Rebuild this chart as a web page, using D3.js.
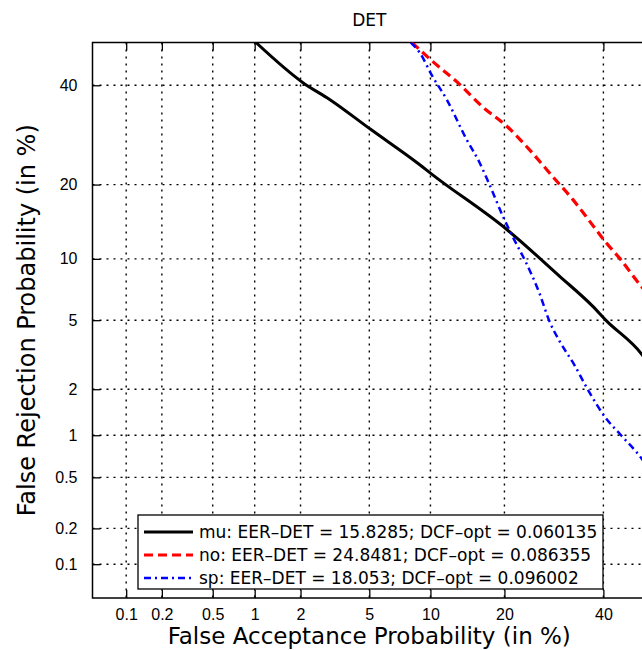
<!DOCTYPE html>
<html>
<head>
<meta charset="utf-8">
<script src="https://cdn.jsdelivr.net/npm/d3@7"></script>
<style>
  body { margin: 0; background: #fff; }
  svg { display: block; font-family: "DejaVu Sans", "Liberation Sans", Arial, sans-serif; }
</style>
</head>
<body>
<div id="chart"></div>
<script>
// Values in percent.
const tickLabels = [0.1, 0.2, 0.5, 1, 2, 5, 10, 20, 40];
const limits = [0.05, 50];

const muFA = [1.02, 2.07, 3.0, 5.1, 8.9, 10.2, 20.4, 30.4, 37.6, 40.6, 48.9, 50];
const muFR = [50, 40.6, 36.8, 30.3, 23.5, 21.7, 13.4, 8.3, 5.9, 4.99, 3.26, 3.0];

const noFA = [8.2, 10.2, 13.4, 16.6, 20.4, 24.4, 28.9, 33.2, 37.5, 40.6, 43.7, 48.9, 50];
const noFR = [50, 45.6, 40.2, 35.1, 31.0, 26.3, 21.4, 17.6, 14.0, 11.8, 10.1, 7.43, 7.0];

const spFA = [8.1, 8.9, 10.2, 11.8, 14.3, 16.1, 17.6, 20.0, 21.4, 23.8, 26.3, 28.3, 30.4, 33.5, 36.5, 40.6, 44.1, 48.9, 50];
const spFR = [50, 47.7, 42.1, 36.8, 28.3, 23.9, 20.0, 14.7, 12.5, 9.6, 6.9, 4.93, 3.83, 2.81, 1.98, 1.30, 1.00, 0.69, 0.62];

const legendLabels = [
    'mu: EER\u2013DET = 15.8285; DCF\u2013opt = 0.060135',
    'no: EER\u2013DET = 24.8481; DCF\u2013opt = 0.086355',
    'sp: EER\u2013DET = 18.053; DCF\u2013opt = 0.096002'
];

// Inverse normal CDF (Acklam), used for the probit (DET) axes.
function probit(p) {
    const a = [-3.969683028665376e+01, 2.209460984245205e+02, -2.759285104469687e+02, 1.383577518672690e+02, -3.066479806614716e+01, 2.506628277459239e+00];
    const b = [-5.447609879822406e+01, 1.615858368580409e+02, -1.556989798598866e+02, 6.680131188771972e+01, -1.328068155288572e+01];
    const c = [-7.784894002430293e-03, -3.223964580411365e-01, -2.400758277161838e+00, -2.549671010029044e+00, 4.374664141464968e+00, 2.938163982698783e+00];
    const d = [7.784695709041462e-03, 3.224671290700398e-01, 2.445134137142996e+00, 3.754408661907416e+00];
    const pl = 0.02425;
    let q, r;
    if (p < pl) {
        q = Math.sqrt(-2 * Math.log(p));
        return (((((c[0]*q+c[1])*q+c[2])*q+c[3])*q+c[4])*q+c[5]) / ((((d[0]*q+d[1])*q+d[2])*q+d[3])*q+1);
    } else if (p <= 1 - pl) {
        q = p - 0.5; r = q * q;
        return (((((a[0]*r+a[1])*r+a[2])*r+a[3])*r+a[4])*r+a[5])*q / (((((b[0]*r+b[1])*r+b[2])*r+b[3])*r+b[4])*r+1);
    }
    q = Math.sqrt(-2 * Math.log(1 - p));
    return -(((((c[0]*q+c[1])*q+c[2])*q+c[3])*q+c[4])*q+c[5]) / ((((d[0]*q+d[1])*q+d[2])*q+d[3])*q+1);
}
const pz = v => probit(v / 100);

const totalW = 642, totalH = 650;
const margin = {top: 42.5, left: 92.5, right: -4, bottom: 52};
const width = totalW - margin.left - margin.right;
const height = totalH - margin.top - margin.bottom;

const svg = d3.select('#chart').append('svg')
    .attr('width', totalW)
    .attr('height', totalH);
const g = svg.append('g').attr('transform', `translate(${margin.left},${margin.top})`);

// Linear scales in probit space.
const x = d3.scaleLinear().domain(limits.map(pz)).range([0, width]);
const y = d3.scaleLinear().domain(limits.map(pz)).range([height, 0]);

// Grid.
const grid = g.append('g')
    .attr('stroke', '#000')
    .attr('stroke-width', 1.4)
    .attr('stroke-dasharray', '2,5');
grid.selectAll('.vg').data(tickLabels).enter().append('line')
    .attr('x1', d => x(pz(d))).attr('x2', d => x(pz(d)))
    .attr('y1', 0).attr('y2', height);
grid.selectAll('.hg').data(tickLabels).enter().append('line')
    .attr('y1', d => y(pz(d))).attr('y2', d => y(pz(d)))
    .attr('x1', 0).attr('x2', width);

// Axes.
const fmt = v => String(v);
const xAxis = g.append('g')
    .attr('transform', `translate(0,${height})`)
    .call(d3.axisBottom(x).tickValues(tickLabels.map(pz))
        .tickFormat((d, i) => fmt(tickLabels[i])).tickSizeInner(-8).tickSizeOuter(0).tickPadding(11));
const yAxis = g.append('g')
    .call(d3.axisLeft(y).tickValues(tickLabels.map(pz))
        .tickFormat((d, i) => fmt(tickLabels[i])).tickSizeInner(-8).tickSizeOuter(0).tickPadding(15));
g.append('g')
    .call(d3.axisTop(x).tickValues(tickLabels.map(pz)).tickFormat('').tickSizeInner(-8).tickSizeOuter(0));
[xAxis, yAxis].forEach(a => {
    a.selectAll('text').style('font-size', '16px').attr('fill', '#000');
});
g.selectAll('.domain').remove();
g.selectAll('.tick line').attr('stroke', '#000').attr('stroke-width', 1.3);

// Box.
g.append('rect')
    .attr('width', width).attr('height', height)
    .attr('fill', 'none').attr('stroke', '#000').attr('stroke-width', 1.5);

// Curves.
g.append('clipPath').attr('id', 'clip')
    .append('rect').attr('width', width).attr('height', height);

const series = [
    {fa: muFA, fr: muFR, color: '#000', width: 3, dash: null},
    {fa: noFA, fr: noFR, color: '#ff0000', width: 3.2, dash: '9,5'},
    {fa: spFA, fr: spFR, color: '#0000ff', width: 2.5, dash: '7,4,2,4'}
];
const line = d3.line()
    .x(d => x(pz(d[0])))
    .y(d => y(pz(d[1])))
    .curve(d3.curveMonotoneX);

g.append('g').attr('clip-path', 'url(#clip)')
    .selectAll('path').data(series).enter().append('path')
        .attr('d', s => line(s.fa.map((v, i) => [v, s.fr[i]])))
        .attr('fill', 'none')
        .attr('stroke', s => s.color)
        .attr('stroke-width', s => s.width)
        .attr('stroke-dasharray', s => s.dash);

// Legend.
const leg = svg.append('g').attr('transform', 'translate(138,515)');
leg.append('rect')
    .attr('width', 465).attr('height', 74)
    .attr('fill', '#fff').attr('stroke', '#000').attr('stroke-width', 1.3);
series.forEach((s, i) => {
    const ly = 17 + i * 23;
    leg.append('line')
        .attr('x1', 6).attr('x2', 55).attr('y1', ly).attr('y2', ly)
        .attr('stroke', s.color).attr('stroke-width', s.width)
        .attr('stroke-dasharray', s.dash);
    leg.append('text')
        .attr('x', 61).attr('y', ly)
        .attr('dy', '0.35em')
        .style('font-size', '17px')
        .text(legendLabels[i]);
});

// Titles.
svg.append('text')
    .attr('x', margin.left + width / 2).attr('y', 20)
    .attr('text-anchor', 'middle').attr('dy', '0.35em')
    .style('font-size', '17px')
    .text('DET');
svg.append('text')
    .attr('x', margin.left + width / 2).attr('y', 636)
    .attr('text-anchor', 'middle').attr('dy', '0.35em')
    .style('font-size', '23px')
    .text('False Acceptance Probability (in %)');
svg.append('text')
    .attr('transform', `translate(27,${margin.top + height / 2}) rotate(-90)`)
    .attr('text-anchor', 'middle').attr('dy', '0.35em')
    .style('font-size', '24px')
    .text('False Rejection Probability (in %)');
</script>
</body>
</html>
